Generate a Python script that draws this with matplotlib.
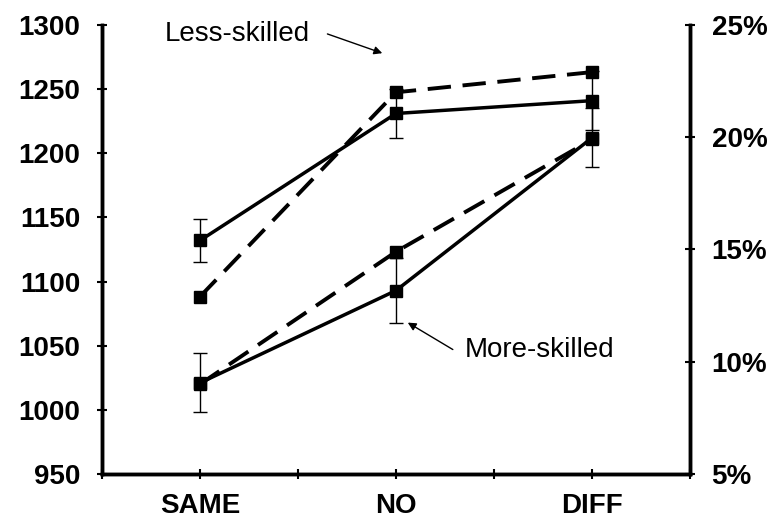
import matplotlib
matplotlib.use('Agg')
import matplotlib.pyplot as plt

plt.rcParams['font.family'] = ['Liberation Sans', 'DejaVu Sans']

conditions = ['SAME', 'NO', 'DIFF']
x_pos = [1, 2, 3]

# reaction times (left axis, solid lines)
rt_less = [1132, 1231, 1241]
rt_less_err = [17, 19, 23]
rt_more = [1021, 1093, 1212]
rt_more_err = [23, 25, 23]

# error rates in % (right axis, dashed lines)
err_less = [12.9, 22.0, 22.9]
err_more = [9.0, 14.9, 19.9]

rt_ticks = [950, 1000, 1050, 1100, 1150, 1200, 1250, 1300]
pct_ticks = [5, 10, 15, 20, 25]

fig = plt.figure(figsize=(7.77, 5.2), dpi=100)
ax = fig.add_axes([0.1313, 0.0885, 0.888 - 0.1313, 0.952 - 0.0885])
ax2 = ax.twinx()

ax.errorbar(x_pos, rt_less, yerr=rt_less_err, color='black', lw=2.5,
            marker='s', ms=8, ecolor='black', elinewidth=1, capsize=5,
            capthick=1, zorder=3)
ax.errorbar(x_pos, rt_more, yerr=rt_more_err, color='black', lw=2.5,
            marker='s', ms=8, ecolor='black', elinewidth=1, capsize=5,
            capthick=1, zorder=3)

ax2.plot(x_pos, err_less, color='black', lw=2.8, ls=(0, (6, 3)),
         marker='s', ms=8)
ax2.plot(x_pos, err_more, color='black', lw=2.8, ls=(0, (6, 3)),
         marker='s', ms=8)

ax.set_xlim(0.5, 3.5)
ax.set_ylim(950, 1300)
ax2.set_ylim(5, 25)

ax.set_xticks([0.5, 1, 1.5, 2, 2.5, 3, 3.5])
ax.set_xticklabels(['', 'SAME', '', 'NO', '', 'DIFF', ''])
ax.set_yticks(rt_ticks)
ax.set_yticklabels([str(t) for t in rt_ticks])
ax2.set_yticks(pct_ticks)
ax2.set_yticklabels(['%d%%' % t for t in pct_ticks])

for a in (ax, ax2):
    a.spines['top'].set_visible(False)
    for s in ('left', 'right', 'bottom'):
        a.spines[s].set_linewidth(2.5)
    a.tick_params(direction='inout', length=7, width=1.5, labelsize=20)
    for lab in a.get_yticklabels() + a.get_xticklabels():
        lab.set_fontweight('bold')

ax.tick_params(axis='x', pad=10)
ax.tick_params(axis='y', pad=12)
ax2.tick_params(axis='y', pad=12)

ax.text(0.82, 1293, 'Less-skilled', fontsize=20, va='center', ha='left')
ax.annotate('', xy=(1.93, 1278), xytext=(1.65, 1293),
            arrowprops=dict(arrowstyle='-|>', color='black', lw=1,
                            mutation_scale=12, shrinkA=0, shrinkB=0))
ax.text(2.35, 1047, 'More-skilled', fontsize=20, va='center', ha='left')
ax.annotate('', xy=(2.06, 1068), xytext=(2.29, 1047),
            arrowprops=dict(arrowstyle='-|>', color='black', lw=1,
                            mutation_scale=12, shrinkA=0, shrinkB=0))

fig.savefig('out.png', dpi=100)
